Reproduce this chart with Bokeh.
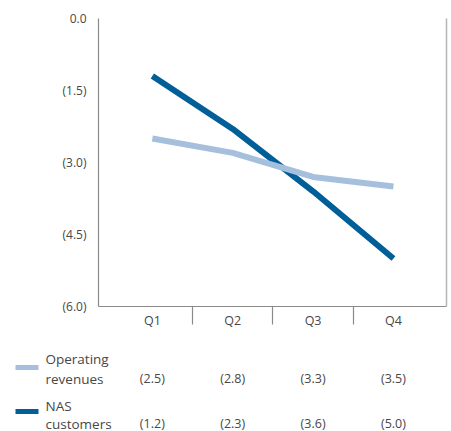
from bokeh.plotting import figure
from bokeh.layouts import column, row
from bokeh.models import (Range1d, FixedTicker, LinearAxis, Label, BoxAnnotation,
                          ColumnDataSource)
from bokeh.core.properties import value
from bokeh.embed import file_html
from bokeh.resources import INLINE

# Quarterly change (negative = decline)
quarters = ["Q1", "Q2", "Q3", "Q4"]
operating_revenues = [-2.5, -2.8, -3.3, -3.5]
nas_customers = [-1.2, -2.3, -3.6, -5.0]
y_ticks = [0.0, -1.5, -3.0, -4.5, -6.0]
y_tick_labels = ["0.0", "(1.5)", "(3.0)", "(4.5)", "(6.0)"]
series_names = [["Operating", "revenues"], ["NAS", "customers"]]

LIGHT = "#a6bfdc"
DARK = "#005e99"
TEXT = "#474747"
FONT = "Open Sans"

xs = list(range(len(quarters)))
x_lo, x_hi = -0.67, 3.66

p = figure(frame_width=348, frame_height=288, min_border_left=98, min_border_top=18,
           min_border_right=5, min_border_bottom=29,
           x_range=Range1d(x_lo, x_hi), y_range=Range1d(-6.0, 0.0),
           output_backend="svg", toolbar_location=None)
p.outline_line_color = None
p.grid.visible = False

p.line(xs, nas_customers, line_color=DARK, line_width=6, line_join="round")
p.line(xs, operating_revenues, line_color=LIGHT, line_width=6, line_join="round")

# y axis: parenthesised negatives, no tick marks
ya = p.yaxis[0]
ya.ticker = FixedTicker(ticks=y_ticks)
ya.major_label_overrides = {t: l for t, l in zip(y_ticks, y_tick_labels)}
ya.major_tick_line_color = None
ya.minor_tick_line_color = None
ya.axis_line_color = "#8a8a8a"
ya.axis_line_width = 1.2
ya.major_label_standoff = 6
ya.major_label_text_font = FONT
ya.major_label_text_font_size = "12px"
ya.major_label_text_color = TEXT

# x axis: quarter labels with separators between them
xa = p.xaxis[0]
xa.ticker = FixedTicker(ticks=xs, minor_ticks=[0.5, 1.5, 2.5])
xa.major_label_overrides = {i: q for i, q in enumerate(quarters)}
xa.major_tick_line_color = None
xa.minor_tick_in = 0
xa.minor_tick_out = 18
xa.minor_tick_line_color = "#8a8a8a"
xa.minor_tick_line_width = 1.2
xa.axis_line_color = "#8a8a8a"
xa.axis_line_width = 1.2
xa.major_label_standoff = -13
xa.major_label_text_font = FONT
xa.major_label_text_font_size = "12.5px"
xa.major_label_text_color = TEXT

# light right edge
ra = LinearAxis(ticker=FixedTicker(ticks=[]), axis_line_color="#b5b5b5",
                axis_line_width=1.5, major_tick_line_color=None,
                minor_tick_line_color=None, major_label_text_font_size="0px")
p.add_layout(ra, "right")

# value table beneath the chart, on the same quarter scale across the full width
px_per_unit = 348 / (x_hi - x_lo)
t_lo = x_lo - 98 / px_per_unit
t_hi = x_hi + 5 / px_per_unit
t = figure(frame_width=451, frame_height=96, min_border=0,
           x_range=Range1d(t_lo, t_hi), y_range=Range1d(0, 96),
           x_axis_location=None, y_axis_location=None,
           output_backend="svg", toolbar_location=None)
t.outline_line_color = None
t.grid.visible = False

rows = [(operating_revenues, LIGHT, 73, 53, 64), (nas_customers, DARK, 26, 8, 20)]
for (vals, color, y1, y2, ysw), names in zip(rows, series_names):
    src = ColumnDataSource(dict(x=xs, y=[y2] * len(xs),
                                t=["(%.1f)" % abs(v) for v in vals]))
    t.text("x", "y", text="t", source=src, text_align="center",
           text_baseline="middle", text_font_size="12.5px", text_color=TEXT,
           text_font=value(FONT))
    t.add_layout(BoxAnnotation(left=15, right=38, bottom=ysw - 2.5, top=ysw + 2.5,
                               left_units="screen", right_units="screen",
                               fill_color=color, fill_alpha=1, line_color=None))
    for name, yy in zip(names, [y1, y2]):
        t.add_layout(Label(x=45, y=yy, x_units="screen", text=name,
                           text_baseline="middle", text_font_size="13.5px",
                           text_color=TEXT, text_font=FONT))

layout = column(p, row(t), spacing=0)
open("out.html", "w").write(file_html(layout, INLINE))
